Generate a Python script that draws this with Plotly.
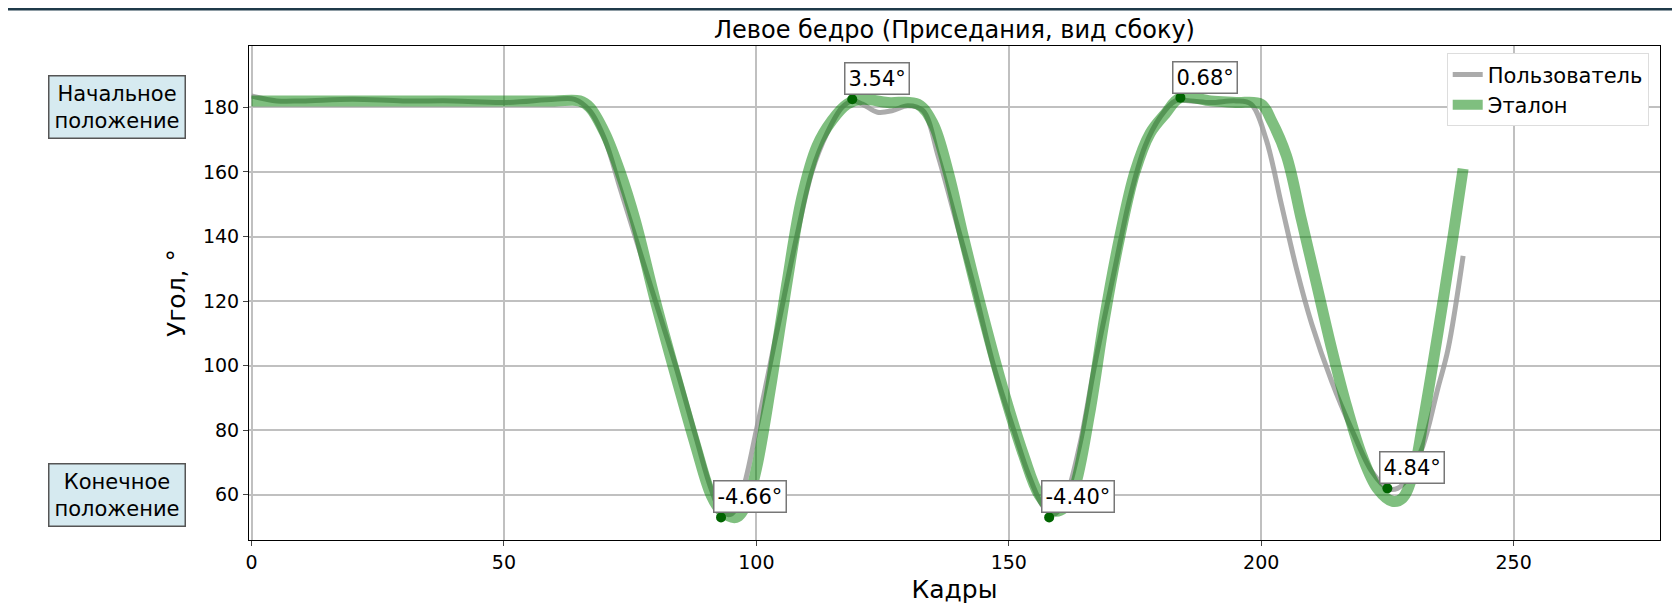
import plotly.graph_objects as go

user_x = [0,5,10,20,30,40,50,60,64,67,70,73,76,80,84,88,91,93,95,97,100,104,108,111,114,117,119,121,124,127,130,133,136,139,143,147,151,154,157,159,161,164,167,171,174,177,180,183,186,190,195,198,201,204,207,210,214,218,222,225,227,229,232,235,237,240]
user_y = [183.5,182,182,182.5,182,182,181.5,182.5,182.5,179,170,155,140,120,100,78,62,55,54,60,80,110,140,160,172,180,182,181,178.5,179,180.5,179,165,148,125,100,80,66,56,54,58,75,100,130,152,168,177,182,182,181.5,182,181,170,150,130,113,95,80,67,62,62,65,75,93,105,134]

ref_x = [0,10,20,30,40,50,60,65,67,70,73,76,80,84,88,91,93,96,98,100,103,106,109,112,115,118,121,126,132,135,138,141,145,149,153,156,159,161,163,166,169,172,175,178,181,184,190,195,200,202,205,208,211,214,217,220,223,226,228,230,232,235,238,240]
ref_y = [182,182,182,182,182,182,182,182,180,172,160,145,120,97,75,60,55,53,57,68,95,125,152,168,176,181,182.5,181.5,181,175,160,140,115,92,72,60,55,56,62,85,115,140,160,172,178,183,182,181.5,181,176,165,145,125,105,87,72,62,58,59,66,82,110,140,161]

peak_x = [93, 119, 158, 184, 225]
peak_y = [53, 182.5, 53, 183, 62]
peak_labels = ["-4.66°", "3.54°", "-4.40°", "0.68°", "4.84°"]

fig = go.Figure()
fig.add_trace(go.Scatter(x=user_x, y=user_y, mode="lines", name="Пользователь",
                         line=dict(color="rgba(150,150,150,0.8)", width=5, shape="spline")))
fig.add_trace(go.Scatter(x=ref_x, y=ref_y, mode="lines", name="Эталон",
                         line=dict(color="rgba(0,128,0,0.5)", width=11, shape="spline")))
fig.add_trace(go.Scatter(x=peak_x, y=peak_y, mode="markers", showlegend=False,
                         marker=dict(color="darkgreen", size=10)))

for px, py, t in zip(peak_x, peak_y, peak_labels):
    fig.add_annotation(x=px, y=py, text=t, showarrow=False, xanchor="left", yanchor="bottom",
                       xshift=-8, yshift=4, font=dict(size=21, color="black"),
                       bgcolor="white", bordercolor="#777", borderwidth=1.5, borderpad=3)

for yv, t in [(180, "Начальное<br>положение"), (60, "Конечное<br>положение")]:
    fig.add_annotation(xref="paper", yref="y", x=-0.045, y=yv, text=t, showarrow=False,
                       xanchor="right", yanchor="middle", align="center",
                       font=dict(size=21, color="black"),
                       bgcolor="#d6eaf0", bordercolor="#555", borderwidth=1.5, borderpad=5)

fig.add_shape(type="rect", xref="paper", yref="paper", x0=-0.2, x1=1.05, y0=1.072, y1=1.09,
              fillcolor="#1f3a4a", line_width=0)

fig.update_layout(
    width=1680, height=611, plot_bgcolor="white", paper_bgcolor="white",
    margin=dict(l=241, r=28, t=38, b=79),
    font=dict(family="DejaVu Sans", color="black"),
    title=dict(text="Левое бедро (Приседания, вид сбоку)", x=0.5, xref="paper", y=0.978,
               font=dict(size=24)),
    legend=dict(x=0.992, y=0.985, xanchor="right", yanchor="top", bgcolor="white",
                bordercolor="#ddd", borderwidth=1, font=dict(size=21)),
    xaxis=dict(range=[-0.5, 279], tickvals=[0, 50, 100, 150, 200, 250], showgrid=True,
               gridcolor="#c0c0c0", gridwidth=1.5, zeroline=False, showline=True, linecolor="black",
               mirror=True, ticks="outside", tickfont=dict(size=19),
               title=dict(text="Кадры", font=dict(size=25), standoff=8)),
    yaxis=dict(range=[46, 199], tickvals=[60, 80, 100, 120, 140, 160, 180], showgrid=True,
               gridcolor="#c0c0c0", gridwidth=1.5, zeroline=False, showline=True, linecolor="black",
               mirror=True, ticks="outside", tickfont=dict(size=19),
               title=dict(text="Угол, °", font=dict(size=25), standoff=10)),
)
fig.write_html("out.html")
